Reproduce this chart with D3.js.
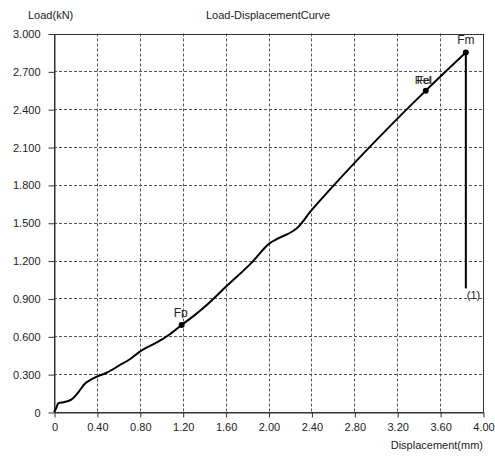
<!DOCTYPE html>
<html>
<head>
<meta charset="utf-8">
<script src="https://cdn.jsdelivr.net/npm/d3@7"></script>
<style>
  html, body { margin: 0; padding: 0; background: #fff; }
  svg { display: block; font-family: "Liberation Sans", Arial, sans-serif; }
</style>
</head>
<body>
<svg id="chart" width="495" height="457"></svg>
<script>
// Load–displacement record of the tensile test
const displacement = [0, 0.02, 0.04, 0.09, 0.165, 0.23, 0.29, 0.34, 0.40, 0.49, 0.61, 0.71, 0.80, 1.00, 1.07, 1.19, 1.30, 1.40, 1.60, 1.85, 2.01, 2.06, 2.28, 2.39, 2.57, 3.466, 3.84];
const load =         [0, 0.03, 0.069, 0.078, 0.10, 0.16, 0.226, 0.254, 0.28, 0.311, 0.37, 0.42, 0.478, 0.571, 0.61, 0.69, 0.76, 0.83, 0.99, 1.19, 1.337, 1.363, 1.469, 1.588, 1.76, 2.547, 2.85];

// Characteristic points
const markNames = ["Fp", "Rel", "Fm"];
const markDisp  = [1.19, 3.466, 3.84];
const markLoad  = [0.69, 2.547, 2.85];

// Fracture drop
const breakDisp = 3.84;
const breakLoad = 0.98;

// Axis ticks
const xTicks = [0, 0.4, 0.8, 1.2, 1.6, 2.0, 2.4, 2.8, 3.2, 3.6, 4.0];
const yTicks = [0, 0.3, 0.6, 0.9, 1.2, 1.5, 1.8, 2.1, 2.4, 2.7, 3.0];

const svg = d3.select("#chart");
const plotLeft = 54, plotRight = 483, plotTop = 33.5, plotBottom = 412;

const x = d3.scaleLinear().domain([0, 4]).range([plotLeft, plotRight]);
const y = d3.scaleLinear().domain([0, 3]).range([plotBottom, plotTop]);

// Dashed grid
const grid = svg.append("g").attr("stroke", "#555").attr("stroke-width", 1).attr("stroke-dasharray", "3,2");
grid.selectAll("line.v").data(xTicks.filter(d => d > 0 && d < 4)).join("line").attr("class", "v")
  .attr("x1", d => Math.round(x(d)) + 0.5).attr("x2", d => Math.round(x(d)) + 0.5)
  .attr("y1", plotTop).attr("y2", plotBottom);
grid.selectAll("line.h").data(yTicks.filter(d => d > 0 && d < 3)).join("line").attr("class", "h")
  .attr("y1", d => Math.round(y(d)) + 0.5).attr("y2", d => Math.round(y(d)) + 0.5)
  .attr("x1", plotLeft).attr("x2", plotRight);

// Frame
svg.append("rect")
  .attr("x", plotLeft + 0.5).attr("y", Math.round(plotTop) + 0.5)
  .attr("width", plotRight - plotLeft).attr("height", plotBottom - Math.round(plotTop))
  .attr("fill", "none").attr("stroke", "#333").attr("stroke-width", 1);

// Axes
const xAxis = d3.axisBottom(x).tickValues(xTicks)
  .tickFormat(d => d === 0 ? "0" : d3.format(".2f")(d)).tickSizeInner(5).tickSizeOuter(0).tickPadding(6);
const yAxis = d3.axisLeft(y).tickValues(yTicks)
  .tickFormat(d => d === 0 ? "0" : d3.format(".3f")(d)).tickSizeInner(6).tickSizeOuter(0).tickPadding(8);

const gx = svg.append("g").attr("transform", `translate(0.5,${plotBottom + 0.5})`).call(xAxis);
const gy = svg.append("g").attr("transform", `translate(${plotLeft + 0.5},0.5)`).call(yAxis);
[gx, gy].forEach(g => {
  g.select(".domain").attr("stroke", "#333");
  g.selectAll(".tick line").attr("stroke", "#333");
  g.selectAll(".tick text").attr("fill", "#222").style("font-size", "11px")
    .style("font-family", "'Liberation Sans', Arial, sans-serif");
});

// Titles
svg.append("text").attr("x", 268).attr("y", 19).attr("text-anchor", "middle")
  .attr("fill", "#222").style("font-size", "11px").text("Load-DisplacementCurve");
svg.append("text").attr("x", 28).attr("y", 19)
  .attr("fill", "#222").style("font-size", "11px").text("Load(kN)");
svg.append("text").attr("x", plotRight).attr("y", 449).attr("text-anchor", "end")
  .attr("fill", "#222").style("font-size", "11px").text("Displacement(mm)");

// Curve
const pts = displacement.map((d, i) => [d, load[i]]);
const line = d3.line().x(d => x(d[0])).y(d => y(d[1])).curve(d3.curveMonotoneX);
svg.append("path").datum(pts).attr("d", line)
  .attr("fill", "none").attr("stroke", "#000").attr("stroke-width", 2).attr("stroke-linejoin", "round");

// Drop at fracture
svg.append("line")
  .attr("x1", x(breakDisp)).attr("x2", x(breakDisp))
  .attr("y1", y(markLoad[2])).attr("y2", y(breakLoad))
  .attr("stroke", "#000").attr("stroke-width", 2);
svg.append("text").attr("x", x(breakDisp) + 1).attr("y", y(breakLoad) + 11)
  .attr("fill", "#222").style("font-size", "11px").text("(1)");

// Characteristic points
svg.selectAll("circle.mk").data(markNames).join("circle").attr("class", "mk")
  .attr("cx", (d, i) => x(markDisp[i])).attr("cy", (d, i) => y(markLoad[i]))
  .attr("r", 3).attr("fill", "#000");

// Fp label (lower part hidden)
svg.append("clipPath").attr("id", "fpclip").append("rect")
  .attr("x", 160).attr("y", 300).attr("width", 40).attr("height", 18);
svg.append("text").attr("x", x(markDisp[0]) - 8).attr("y", y(markLoad[0]) - 8)
  .attr("clip-path", "url(#fpclip)")
  .attr("fill", "#222").style("font-size", "12px").text("Fp");

// Rel / Fel labels drawn on top of each other
svg.append("text").attr("x", x(markDisp[1]) - 11).attr("y", y(markLoad[1]) - 7)
  .attr("fill", "#222").style("font-size", "11px").text("Rel");
svg.append("text").attr("x", x(markDisp[1]) - 9).attr("y", y(markLoad[1]) - 7)
  .attr("fill", "#222").style("font-size", "11px").text("Fel");

// Fm label
svg.append("text").attr("x", x(markDisp[2])).attr("y", y(markLoad[2]) - 8)
  .attr("text-anchor", "middle").attr("fill", "#222").style("font-size", "12px").text("Fm");
</script>
</body>
</html>
